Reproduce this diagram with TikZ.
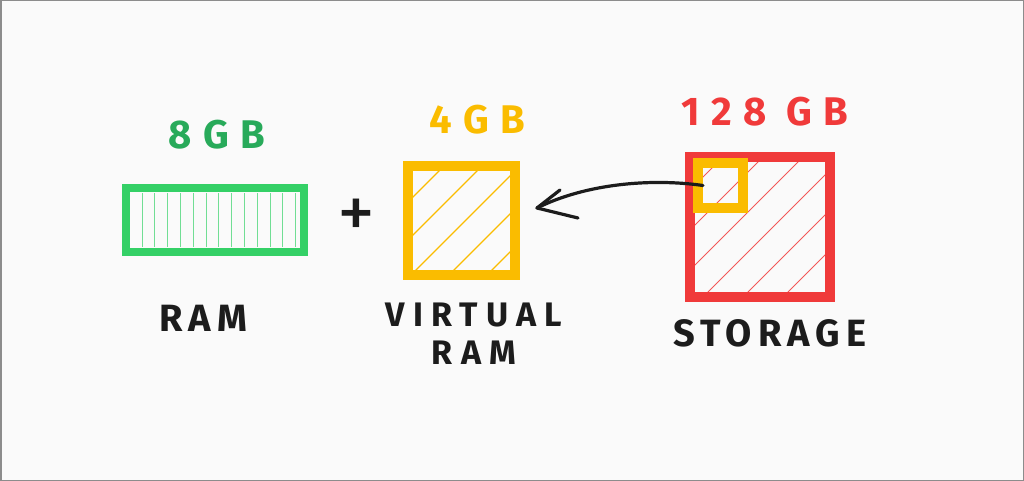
\documentclass[tikz,border=0pt]{standalone}
\usepackage{fontspec}
\setmainfont{Fira Sans}
\newfontfamily\namefont[LetterSpace=16]{Fira Sans}
\newfontfamily\vnamefont[LetterSpace=24]{Fira Sans}
\newfontfamily\sizefont[LetterSpace=28]{Fira Sans}
\usetikzlibrary{positioning}

\definecolor{ramgreen}{RGB}{52,208,102}
\definecolor{textgreen}{RGB}{40,170,90}
\definecolor{vyellow}{RGB}{250,188,0}
\definecolor{sred}{RGB}{240,58,58}
\definecolor{ink}{RGB}{28,28,28}

\tikzset{
  membox/.style={draw, inner sep=0pt},
  sizelabel/.style={font=\sizefont\bfseries\fontsize{40}{44}\selectfont},
  namelabel/.style={font=\namefont\bfseries\fontsize{38}{34}\selectfont, text=ink, align=center},
  hatch/.style={line width=1.3pt},
}

\begin{document}
\begin{tikzpicture}[x=1pt,y=-1pt]
% frame
\draw[fill=black!2, draw=black!45, line width=1.5pt] (0.75,0.75) rectangle (1023.25,480.25);
% ram stick
\foreach \x in {0,...,12}
  \draw[hatch, ramgreen!70, line width=1pt] (142+12.8*\x,193) -- (142+12.8*\x,247);
\node[membox, draw=ramgreen, line width=8pt, minimum width=178pt, minimum height=64pt] (ram) at (215,220) {};
% virtual ram
\begin{scope}
  \clip (413,171) rectangle (510,270);
  \foreach \c in {610,648,686,724,762}
    \draw[hatch, vyellow] (\c-300,300) -- (\c+100,-100);
\end{scope}
\node[membox, draw=vyellow, line width=10pt, minimum width=107pt, minimum height=109pt] (vram) at (461.5,220.5) {};
% storage
\begin{scope}
  \clip (695,162) rectangle (825,292);
  \foreach \c in {880,920,960,1000,1040,1080}
    \draw[hatch, sred!85, line width=1pt] (\c-400,400) -- (\c,0);
\end{scope}
\node[membox, draw=sred, line width=10pt, minimum width=140pt, minimum height=140pt] (storage) at (760,227) {};
\node[membox, draw=vyellow, line width=10pt, minimum width=45pt, minimum height=45pt] (swap) at (720.5,185.5) {};
% labels
\node[sizelabel, text=textgreen] (ramsize) at (217,135) {8GB};
\node[sizelabel, text=vyellow] (vramsize) at (477,120) {4GB};
\node[sizelabel, text=sred] (storagesize) at (765,112) {128 GB};
\node[namelabel] (ramname) at (203,318) {RAM};
\node[namelabel, font=\vnamefont\bfseries\fontsize{34}{38}\selectfont] (vramname) at (474,334) {VIRTUAL\\RAM};
\node[namelabel] (storagename) at (770,333) {STORAGE};
\node[font=\fontsize{76}{76}\selectfont, text=ink] (plus) at (356,219) {+};
% arrow
\coordinate (tip) at ([xshift=17pt,yshift=12.5pt]vram.east);
\draw[ink, line width=3.2pt, line cap=round] ([xshift=10pt]swap.west) .. controls (650,178) and (585,184) .. (tip);
\draw[ink, line width=3.2pt, line cap=round] (tip) -- ++(23,-18);
\draw[ink, line width=3.2pt, line cap=round] (tip) -- ++(41,10);
\end{tikzpicture}
\end{document}
